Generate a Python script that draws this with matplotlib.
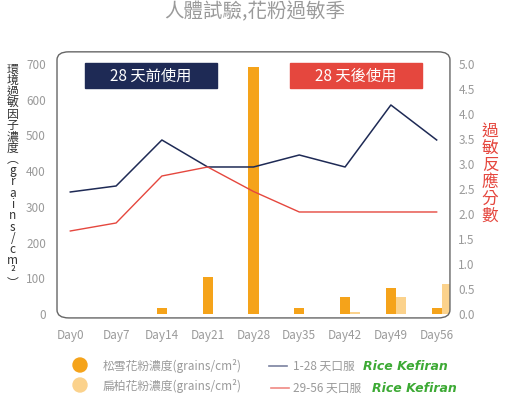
import matplotlib
matplotlib.use("Agg")
import numpy as np
import matplotlib.pyplot as plt
from matplotlib.patches import FancyBboxPatch, Circle, Rectangle
from matplotlib.lines import Line2D

plt.rcParams['font.family'] = ['Noto Sans CJK TC', 'DejaVu Sans']

# ── Data ──────────────────────────────────────────────────────────────────────
DAYS = ["Day0", "Day7", "Day14", "Day21", "Day28", "Day35", "Day42", "Day49", "Day56"]
PINE = [0, 0, 17, 104, 692, 17, 48, 72, 17]          # 松雪花粉濃度
CYPRESS = [0, 0, 0, 0, 0, 0, 5, 48, 85]              # 扁柏花粉濃度
SCORE_1_28 = [2.44, 2.56, 3.48, 2.94, 2.94, 3.18, 2.94, 4.18, 3.48]
SCORE_29_56 = [1.66, 1.82, 2.76, 2.94, 2.45, 2.04, 2.04, 2.04, 2.04]

ORANGE = "#F5A31A"
LIGHT = "#FBD28C"
NAVY = "#1E2A55"
RED = "#E5473E"
GRAY = "#9A9A9A"
GREEN = "#3DAA35"

fig = plt.figure(figsize=(5.09, 4.05), dpi=100)
ax = fig.add_axes([0.112, 0.215, 0.772, 0.657])
x = np.arange(len(DAYS))
w = 0.22
ax.bar(x, PINE, width=w, color=ORANGE, zorder=2)
ax.bar(x + w, CYPRESS, width=w, color=LIGHT, zorder=2)
ax.set_xlim(-0.29, 8.29)
ax.set_ylim(-11, 734)
ax.set_yticks(range(0, 701, 100))
ax.set_xticks(x)
ax.set_xticklabels(DAYS)
ax.tick_params(length=0, colors=GRAY, labelsize=8.5, pad=8)
for s in ax.spines.values():
    s.set_visible(False)

ax2 = ax.twinx()
ax2.plot(x, SCORE_1_28, color=NAVY, lw=1.1, zorder=3)
ax2.plot(x, SCORE_29_56, color=RED, lw=1.0, zorder=3)
ax2.set_ylim(-11 / 140, 734 / 140)
ax2.set_yticks(np.arange(0, 5.01, 0.5))
ax2.set_yticklabels([f"{v:.1f}" for v in np.arange(0, 5.01, 0.5)])
ax2.tick_params(length=0, colors=GRAY, labelsize=8.5, pad=6)
for s in ax2.spines.values():
    s.set_visible(False)

frame = FancyBboxPatch((0, 0), 1, 1, boxstyle="round,pad=0,rounding_size=0.03",
                       transform=ax.transAxes, fill=False, ec="#666666", lw=1.0,
                       clip_on=False, zorder=5)
ax.add_patch(frame)

# header boxes (pixel coordinates of the figure)
for x0, label, col in [(85, "28 天前使用", NAVY), (290, "28 天後使用", RED)]:
    fig.patches.append(Rectangle((x0, 405 - 88), 132, 25, transform=None, color=col, figure=fig))
    fig.text((x0 + 66) / 509, 1 - 76 / 405, label, color="white", fontsize=11,
             ha="center", va="center")

fig.text(0.5, 0.972, "人體試驗,花粉過敏季", color=GRAY, fontsize=14, ha="center", va="center")
fig.text(0.025, 0.565, "\n".join("環境過敏因子濃度") + "\n︵\ng\nr\na\ni\nn\ns\n/\nc\nm\n²\n︶",
         color="#333333", fontsize=8.5, ha="center", va="center", linespacing=0.83)
fig.text(0.963, 0.57, "\n".join("過敏反應分數"), color=RED, fontsize=12, ha="center",
         va="center", linespacing=1.0)

# ── Legend ─────────────────────────────────────────────────────────────────────
fig.patches.append(Circle((80, 405 - 365), 7, transform=None, color=ORANGE, figure=fig))
fig.patches.append(Circle((80, 405 - 385), 7, transform=None, color=LIGHT, figure=fig))
fig.text(103 / 509, 1 - 366 / 405, "松雪花粉濃度(grains/cm²)", color=GRAY, fontsize=8.5, va="center")
fig.text(103 / 509, 1 - 386 / 405, "扁柏花粉濃度(grains/cm²)", color=GRAY, fontsize=8.5, va="center")
fig.lines.append(Line2D([269 / 509, 287 / 509], [1 - 366 / 405] * 2, color="#7A82A0", lw=1.2,
                        transform=fig.transFigure))
fig.lines.append(Line2D([271 / 509, 289 / 509], [1 - 388 / 405] * 2, color="#F08A84", lw=1.2,
                        transform=fig.transFigure))
fig.text(293 / 509, 1 - 366 / 405, "1-28 天口服", color=GRAY, fontsize=8.5, va="center")
fig.text(293 / 509, 1 - 388 / 405, "29-56 天口服", color=GRAY, fontsize=8.5, va="center")
fig.text(363 / 509, 1 - 366 / 405, "Rice Kefiran", color=GREEN, fontsize=9, fontweight="bold",
         style="italic", va="center", family="DejaVu Sans")
fig.text(372 / 509, 1 - 388 / 405, "Rice Kefiran", color=GREEN, fontsize=9, fontweight="bold",
         style="italic", va="center", family="DejaVu Sans")

fig.savefig("out.png", dpi=100)
